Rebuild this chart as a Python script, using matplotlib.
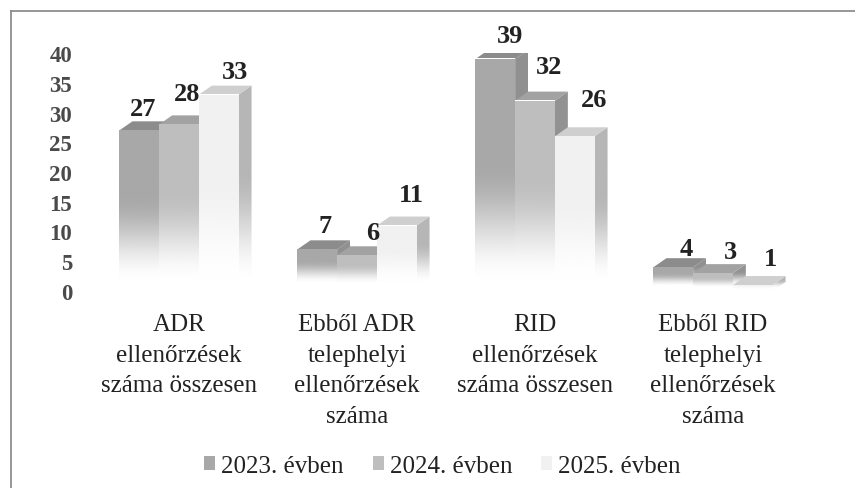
import numpy as np
import matplotlib
matplotlib.use("Agg")
import matplotlib.pyplot as plt
from matplotlib.patches import Polygon, Patch
from matplotlib.colors import to_rgb

categories = ["ADR\nellenőrzések\nszáma összesen",
              "Ebből ADR\ntelephelyi\nellenőrzések\nszáma",
              "RID\nellenőrzések\nszáma összesen",
              "Ebből RID\ntelephelyi\nellenőrzések\nszáma"]
series_names = ["2023. évben", "2024. évben", "2025. évben"]
v2023 = [27, 7, 39, 4]
v2024 = [28, 6, 32, 3]
v2025 = [33, 11, 26, 1]
yticks = [0, 5, 10, 15, 20, 25, 30, 35, 40]

# styles: (front, top, side)
styles = [("#a8a8a8", "#8c8c8c", "#909090"),
          ("#bebebe", "#a2a2a2", "#929292"),
          ("#f1f1f1", "#cfcfcf", "#b6b6b6")]
# label offsets in pixels, per series / category
lab_dx = [[4, 7.5, 15, 13], [8, 16, 14, 17], [16, 15, 19, 18]]
lab_dy = [[21.6, 24, 23, 19], [30.7, 23, 34, 22], [23, 31, 36.6, 27]]

W, H = 855, 489
fig = plt.figure(figsize=(W / 100, H / 100), dpi=100)
plt.rcParams["font.family"] = ["Liberation Serif", "DejaVu Serif"]
ax = fig.add_axes([0, (H - 292) / H, 1, (292 - 54) / H])
ax.set_ylim(0, 40)
ax.set_xlim(-179 / 178, (W - 179) / 178)
for s in ax.spines.values():
    s.set_visible(False)
ax.patch.set_alpha(0)

bw = 39.7 / 178
dx = 13 / 178
dy = 9 / 5.94


def grad(color, poly, y0, y1, v):
    """Paint a polygon with a colour fading to white towards the base."""
    ys = np.linspace(y0, y1, 128)
    start = min(1.3, v * 0.2)
    span = max(min(v * 0.55, 20), 1.0)
    t = np.clip((ys - start) / span, 0, 1)
    a = t * t * (3 - 2 * t)
    rgb = np.array(to_rgb(color))
    img = np.ones((128, 1, 4))
    img[..., :3] = rgb
    img[..., 3] = a[:, None]
    xs = [p[0] for p in poly]
    im = ax.imshow(img, origin="lower", aspect="auto",
                   extent=(min(xs), max(xs), y0, y1), zorder=3,
                   interpolation="bilinear")
    patch = Polygon(poly, closed=True, transform=ax.transData, fc="none", ec="none")
    ax.add_patch(patch)
    im.set_clip_path(patch)


series = [v2023, v2024, v2025]
xpos = np.arange(len(categories))
for c in xpos:
    for j, vals in enumerate(series):
        v = vals[c]
        x0 = c + (j - 1.5) * bw
        x1 = x0 + bw
        front, top, side = styles[j]
        grad("white", [(x1, 0), (x1 + dx, dy), (x1 + dx, v + dy), (x1, v)], 0, v + dy, 1000)
        grad(side, [(x1, 0), (x1 + dx, dy), (x1 + dx, v + dy), (x1, v)], 0, v + dy, v + dy)
        ax.add_patch(Polygon([(x0, v), (x0 + dx, v + dy), (x1 + dx, v + dy), (x1, v)],
                             closed=True, fc=top, ec="none", zorder=3))
        ax.imshow(np.ones((2, 2, 3)), extent=(x0, x1, 0, v), aspect="auto", zorder=3)
        grad(front, [(x0, 0), (x1, 0), (x1, v), (x0, v)], 0, v, v)
        ax.annotate(str(v), (c + (j - 1) * bw, v),
                    xytext=(lab_dx[j][c], lab_dy[j][c]), textcoords="offset pixels",
                    ha="center", va="center", fontsize=19, fontweight="bold",
                    color="#222222", zorder=5)

ax.set_xlim(-179 / 178, (W - 179) / 178)
ax.set_ylim(0, 40)
ax.set_yticks(yticks)
ax.set_yticklabels([str(t) for t in yticks], fontsize=16.5, fontweight="bold", color="#4a4a4a")
ax.tick_params(axis="y", length=0, pad=0)
for lab in ax.get_yticklabels():
    lab.set_ha("right")
    lab.set_x(72 / W)
    lab.set_transform(ax.get_yaxis_transform())
ax.set_xticks(xpos)
ax.set_xticklabels(categories, fontsize=18, color="#222222", linespacing=1.5)
ax.tick_params(axis="x", length=0, pad=16)

handles = [Patch(fc=s[0], ec="none") for s in styles]
leg = fig.legend(handles, series_names, loc="center", bbox_to_anchor=(442.5 / W, (H - 467) / H),
                 ncol=3, frameon=False, fontsize=18, handlelength=0.44, handleheight=0.44,
                 handletextpad=0.24, columnspacing=1.16, labelcolor="#222222",
                 borderpad=0, borderaxespad=0)

# chart frame
fig.add_artist(plt.Line2D([11 / W, 11 / W], [0, 1 - 12 / H], color="#8f8f8f", lw=1.3))
fig.add_artist(plt.Line2D([11 / W, 1], [1 - 12 / H, 1 - 12 / H], color="#8f8f8f", lw=1.3))

fig.savefig("out.png", dpi=100, facecolor="white")
